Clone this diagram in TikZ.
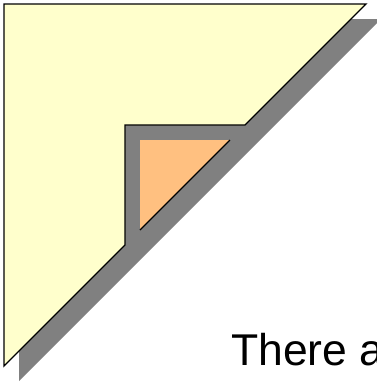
\documentclass[tikz,border=0pt]{standalone}
\usepackage{xcolor}
\usepackage{tikz}
\usepackage{fontspec}
\setmainfont{Liberation Sans}
\definecolor{foldyellow}{HTML}{FFFFCC}
\definecolor{foldorange}{HTML}{FFC080}
\definecolor{foldshadow}{HTML}{808080}

\begin{document}
\begin{tikzpicture}[x=1pt,y=-1pt]
  \useasboundingbox (0,0) rectangle (377,383);
  \fill[foldshadow] (19,19) -- (381,19) -- (19,381) -- cycle;
  \filldraw[fill=foldyellow, draw=black, line width=1.4pt, line join=miter]
    (4,4) -- (366,4) -- (245,125) -- (125,125) -- (125,245) -- (4,366) -- cycle;
  \fill[foldorange] (140,140) -- (230,140) -- (140,230) -- cycle;
  \draw[line width=1.4pt] (230,140) -- (140,230);
  \node[anchor=base west, inner sep=0pt] (caption) at (231,365)
    {\fontsize{44.5}{48}\selectfont There a};
\end{tikzpicture}
\end{document}
